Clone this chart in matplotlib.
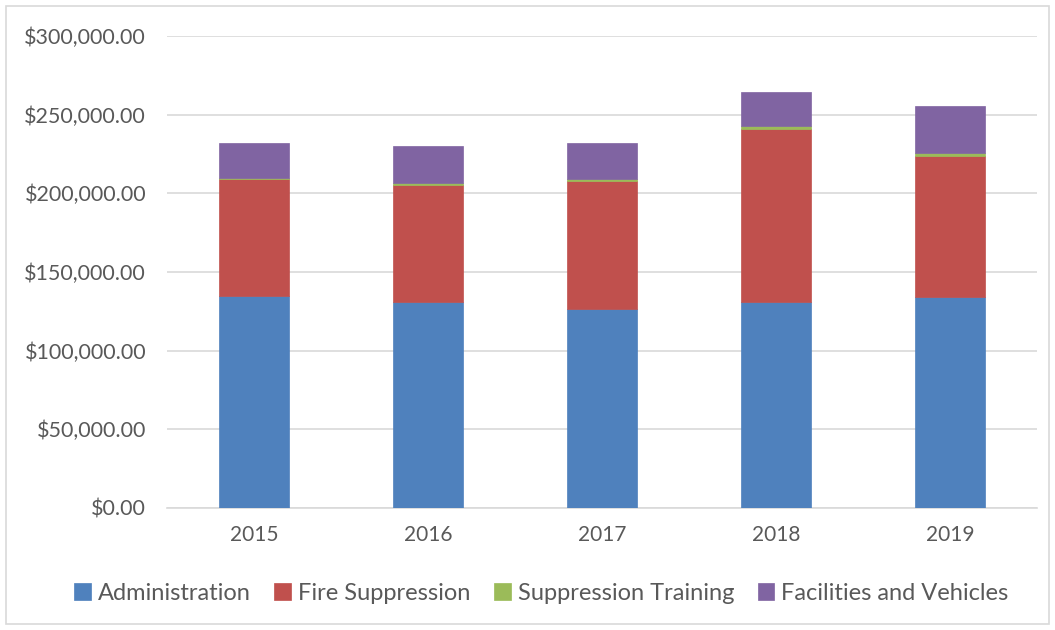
import matplotlib
matplotlib.use("Agg")
import matplotlib.pyplot as plt
from matplotlib.patches import Rectangle
from matplotlib.ticker import FuncFormatter

years = ["2015", "2016", "2017", "2018", "2019"]
administration = [134500, 130900, 126300, 130900, 133900]
fire_suppression = [74800, 74600, 81300, 110200, 89800]
suppression_training = [300, 1100, 1500, 1500, 1900]
facilities_vehicles = [22200, 23500, 22900, 21800, 29900]

series = [
    ("Administration", administration, "#4F81BD"),
    ("Fire Suppression", fire_suppression, "#C0504D"),
    ("Suppression Training", suppression_training, "#9BBB59"),
    ("Facilities and Vehicles", facilities_vehicles, "#8064A2"),
]

plt.rcParams['font.family'] = ['Lato', 'DejaVu Sans']

fig = plt.figure(figsize=(10.55, 6.3), dpi=100)
ax = fig.add_axes([167/1055, 1-508/630, (1037-167)/1055, (508-36)/630])

x = list(range(len(years)))
bottom = [0]*len(years)
for name, vals, col in series:
    ax.bar(x, vals, width=0.40, bottom=bottom, color=col, label=name,
           edgecolor=col, linewidth=0.5, zorder=3)
    bottom = [b + v for b, v in zip(bottom, vals)]

ax.set_xlim(-0.5, len(years)-0.5)
ax.set_ylim(0, 300000)
ax.set_yticks(range(0, 300001, 50000))
ax.yaxis.set_major_formatter(FuncFormatter(lambda v, p: f"${v:,.2f}"))
ax.set_xticks(x)
ax.set_xticklabels(years)
ax.grid(axis='y', color='#d9d9d9', linewidth=1.2, zorder=0)
for s in ['top', 'right', 'left']:
    ax.spines[s].set_visible(False)
ax.spines['bottom'].set_color('#d9d9d9')
ax.spines['bottom'].set_linewidth(1.2)
ax.tick_params(axis='y', length=0, labelsize=15.5, colors='#595959', pad=15)
ax.tick_params(axis='x', length=0, labelsize=15, colors='#595959', pad=12)

fig.legend(loc='center', bbox_to_anchor=(0.5 + 14/1055, 1-593/630), ncol=4, frameon=False,
           fontsize=17, handlelength=0.7, handleheight=0.7, handletextpad=0.3,
           columnspacing=1.0, labelcolor='#595959')

fig.patches.append(Rectangle((6/1055, 6/630), 1-12/1055, 1-12/630,
                             transform=fig.transFigure, fill=False,
                             edgecolor='#d9d9d9', linewidth=1.2))

fig.savefig("out.png", dpi=100)
